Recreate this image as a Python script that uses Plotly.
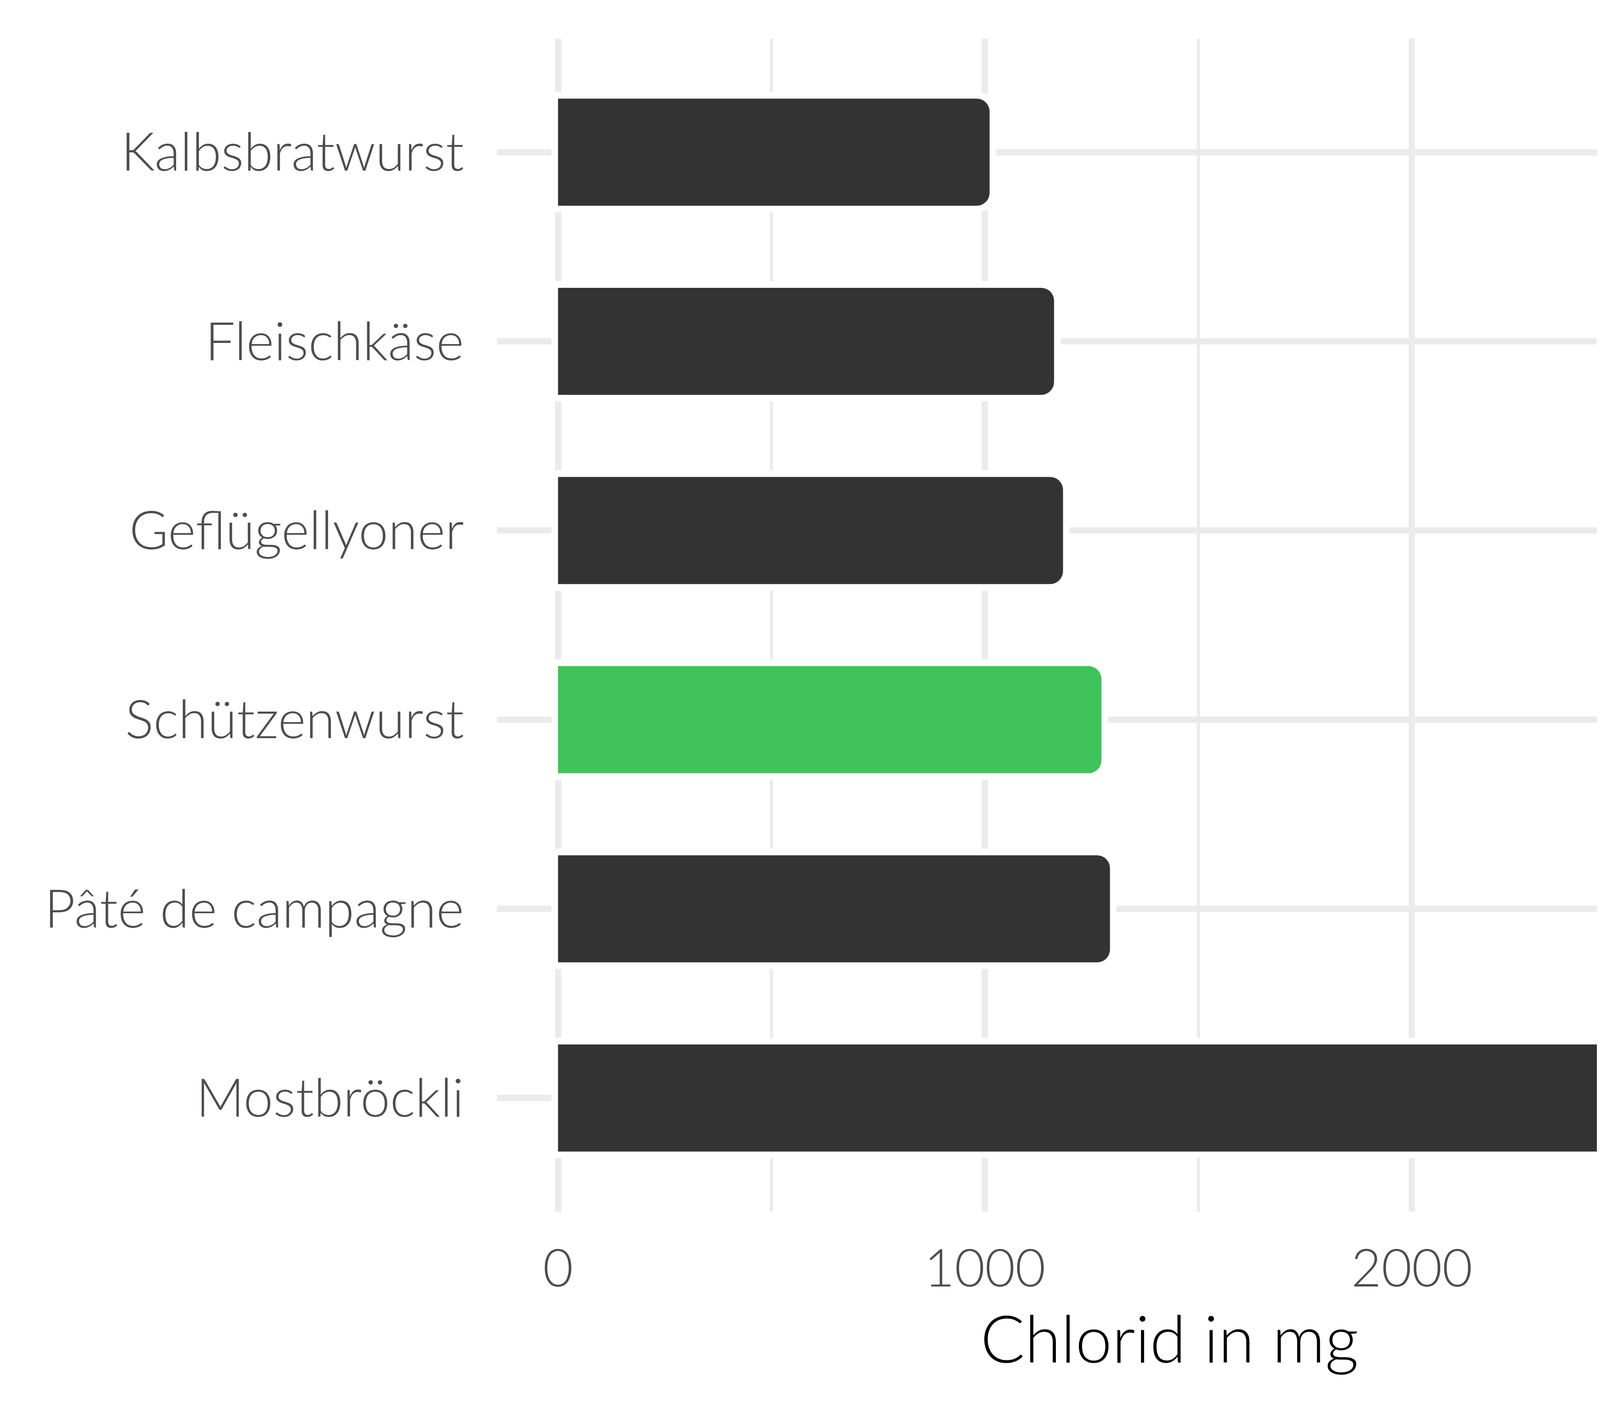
import plotly.graph_objects as go

# Data (top to bottom as shown)
foods = ["Kalbsbratwurst", "Fleischkäse", "Geflügellyoner", "Schützenwurst",
         "Pâté de campagne", "Mostbröckli"]
chlorid_mg = [1011, 1162, 1183, 1273, 1293, 2865]
highlight = "Schützenwurst"
x_ticks = [0, 1000, 2000, 3000]
x_title = "Chlorid in mg"

DARK = "#333333"
GREEN = "#3FC35A"
GRID = "#EBEBEB"
FONT = "Lato"

colors = [GREEN if f == highlight else DARK for f in foods]
bar_w = 0.566

fig = go.Figure()
# white halo behind bars (cuts the grid lines around each bar)
fig.add_trace(go.Bar(
    x=chlorid_mg, y=foods, orientation="h", width=bar_w,
    marker=dict(color="white", line=dict(color="white", width=34), cornerradius=33),
    hoverinfo="skip", showlegend=False,
))
fig.add_trace(go.Bar(
    x=chlorid_mg, y=foods, orientation="h", width=bar_w,
    marker=dict(color=colors, line=dict(width=0), cornerradius=33),
    showlegend=False,
))

max_v = max(chlorid_mg)
fig.update_layout(
    width=4800, height=3600,
    barmode="overlay",
    paper_bgcolor="white", plot_bgcolor="white",
    margin=dict(l=1264, r=92, t=91, b=506, pad=0),
    font=dict(family=FONT, color="#4D4D4D"),
    xaxis=dict(
        range=[-0.05 * max_v, 1.05 * max_v],
        tickvals=x_ticks, ticktext=[str(v) for v in x_ticks],
        showgrid=True, gridcolor=GRID, gridwidth=16,
        minor=dict(dtick=500, tick0=0, showgrid=True, gridcolor=GRID, gridwidth=8),
        zeroline=False, showline=False,
        ticks="outside", ticklen=30, tickcolor="rgba(0,0,0,0)",
        tickfont=dict(family=FONT, size=134, color="#4D4D4D", weight=300),
        title=dict(text=x_title, font=dict(family=FONT, size=168, color="black", weight=300),
                   standoff=36),
    ),
    yaxis=dict(
        type="category", categoryorder="array", categoryarray=foods,
        range=[len(foods) - 0.4, -0.6],
        showgrid=True, gridcolor=GRID, gridwidth=16,
        zeroline=False, showline=False,
        ticks="outside", ticklen=56, tickcolor="rgba(0,0,0,0)",
        tickfont=dict(family=FONT, size=136, color="#4D4D4D", weight=300),
    ),
)

fig.write_html("out.html")
